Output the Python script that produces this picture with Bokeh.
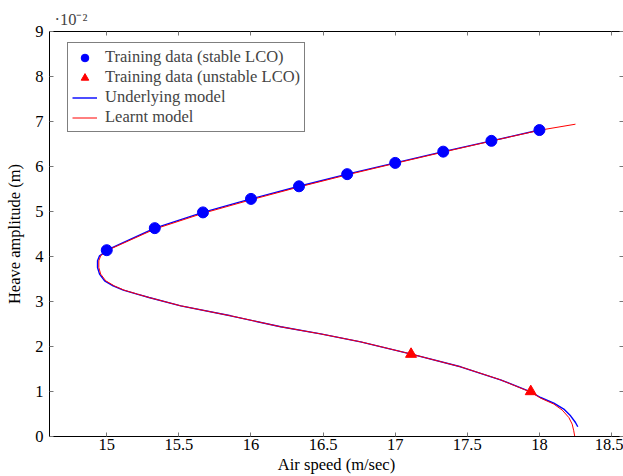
from bokeh.plotting import figure
from bokeh.models import (Legend, LegendItem, LinearAxis, FixedTicker,
                          CustomJSTickFormatter, Range1d)
from bokeh.embed import file_html
from bokeh.resources import INLINE

# ---- data (heave amplitude in metres) ----
stable_speed = [15.0, 15.333, 15.667, 16.0, 16.333, 16.667, 17.0, 17.333, 17.667, 18.0]
stable_heave = [0.0414, 0.0463, 0.0498, 0.0528, 0.0556, 0.0583, 0.0608, 0.0633, 0.0657, 0.0681]

unstable_speed = [17.11, 17.94]
unstable_heave = [0.0183, 0.0100]

# underlying model, traced from lower-branch end, round the fold, up the upper branch
model_speed = [18.266, 18.250, 18.216, 18.169, 18.100, 18.008, 17.940, 17.730, 17.453,
               17.112, 16.760, 16.483, 16.206, 15.859, 15.513, 15.293, 15.210, 15.115,
               15.044, 14.985, 14.950, 14.936, 14.936, 14.950, 14.993,
               15.0, 15.333, 15.667, 16.0, 16.333, 16.667, 17.0, 17.333, 17.667, 18.0]
model_heave = [0.00216, 0.00311, 0.00460, 0.00609, 0.00742, 0.00867, 0.00990, 0.01260, 0.01549,
               0.01831, 0.02104, 0.02280, 0.02438, 0.02682, 0.02904, 0.03089, 0.03164, 0.03253,
               0.03349, 0.03460, 0.03609, 0.03756, 0.03904, 0.04016, 0.04110,
               0.0414, 0.0463, 0.0498, 0.0528, 0.0556, 0.0583, 0.0608, 0.0633, 0.0657, 0.0681]

# learnt model
learnt_speed = [18.245, 18.238, 18.227, 18.204, 18.158, 18.100, 18.008, 17.940, 17.730, 17.453,
                17.112, 16.760, 16.483, 16.206, 15.859, 15.513, 15.293, 15.213, 15.120,
                15.051, 14.993, 14.958, 14.945, 14.945, 14.958, 14.995,
                15.0, 15.333, 15.667, 16.0, 16.333, 16.667, 17.0, 17.333, 17.667, 18.0, 18.25]
learnt_heave = [0.0, 0.00127, 0.00276, 0.00422, 0.00587, 0.00720, 0.00853, 0.00985, 0.01260, 0.01549,
                0.01831, 0.02104, 0.02280, 0.02438, 0.02682, 0.02904, 0.03089, 0.03164, 0.03253,
                0.03349, 0.03460, 0.03609, 0.03756, 0.03904, 0.04016, 0.04120,
                0.0413, 0.0461, 0.0496, 0.0526, 0.05545, 0.05815, 0.0607, 0.0632, 0.06565, 0.06805, 0.0694]

x_ticks = [15, 15.5, 16, 16.5, 17, 17.5, 18, 18.5]
y_ticks = [0, 0.01, 0.02, 0.03, 0.04, 0.05, 0.06, 0.07, 0.08, 0.09]
scale_note = "·10⁻²"

FONT = "Liberation Serif"
FS = "16.5px"

p = figure(width=623, height=476, output_backend="svg", toolbar_location=None,
           x_range=Range1d(14.603, 18.583), y_range=Range1d(0, 0.09),
           title=scale_note,
           min_border_left=49, min_border_right=0, min_border_top=31, min_border_bottom=40)
p.outline_line_color = None
p.xgrid.visible = False
p.ygrid.visible = False
p.background_fill_color = "white"
p.border_fill_color = "white"

p.title.text_font = FONT
p.title.text_font_size = FS
p.title.text_font_style = "normal"
p.title.align = "left"
p.title.offset = 5
p.title.standoff = 6

xfmt = CustomJSTickFormatter(code="return String(+tick.toFixed(2));")
yfmt = CustomJSTickFormatter(code="return (tick*100).toFixed(0);")
blank = CustomJSTickFormatter(code="return '';")

def style_axis(ax, show_labels=True, show_line=True):
    ax.axis_line_color = "black" if show_line else None
    ax.axis_line_width = 1
    ax.major_tick_in = 4
    ax.major_tick_out = 0
    ax.major_tick_line_color = "#777777"
    ax.major_tick_line_width = 1
    ax.minor_tick_line_color = None
    ax.major_label_text_font = FONT
    ax.major_label_text_color = "black"
    ax.axis_label_text_font = FONT
    ax.axis_label_text_font_size = FS
    ax.axis_label_text_font_style = "normal"
    ax.axis_label_text_color = "black"
    if show_labels:
        ax.major_label_text_font_size = FS
    else:
        ax.major_label_text_font_size = "1px"
        ax.major_label_standoff = 0

xa = p.xaxis[0]
xa.ticker = FixedTicker(ticks=x_ticks)
xa.formatter = xfmt
xa.axis_label = "Air speed (m/sec)"
style_axis(xa)
xa.major_label_standoff = 2
xa.axis_label_standoff = 2

ya = p.yaxis[0]
ya.ticker = FixedTicker(ticks=y_ticks)
ya.formatter = yfmt
ya.axis_label = "Heave amplitude (m)"
style_axis(ya)
ya.major_label_standoff = 6
ya.axis_label_standoff = 8

top = LinearAxis(ticker=FixedTicker(ticks=x_ticks), formatter=blank)
style_axis(top, show_labels=False)
p.add_layout(top, "above")

right = LinearAxis(ticker=FixedTicker(ticks=y_ticks), formatter=blank)
style_axis(right, show_labels=False, show_line=False)
p.add_layout(right, "right")

r_model = p.line(model_speed, model_heave, line_color="blue", line_width=1.4)
r_learnt = p.line(learnt_speed, learnt_heave, line_color="red", line_width=1.0)
r_stable = p.scatter(stable_speed, stable_heave, marker="circle", size=11,
                     fill_color="blue", line_color="blue")
r_unstable = p.scatter(unstable_speed, unstable_heave, marker="triangle", size=11,
                       fill_color="red", line_color="red")

legend = Legend(items=[
    LegendItem(label="Training data (stable LCO)", renderers=[r_stable]),
    LegendItem(label="Training data (unstable LCO)", renderers=[r_unstable]),
    LegendItem(label="Underlying model", renderers=[r_model]),
    LegendItem(label="Learnt model", renderers=[r_learnt]),
], location=(18, 304))
legend.border_line_color = "black"
legend.border_line_width = 1
legend.padding = 4
legend.spacing = 0
legend.margin = 0
legend.glyph_width = 25
legend.glyph_height = 19
legend.label_height = 19
legend.label_standoff = 8
legend.label_text_font = FONT
legend.label_text_font_size = FS
legend.background_fill_alpha = 1.0
p.add_layout(legend, "center")

open("out.html", "w").write(file_html(p, INLINE))
